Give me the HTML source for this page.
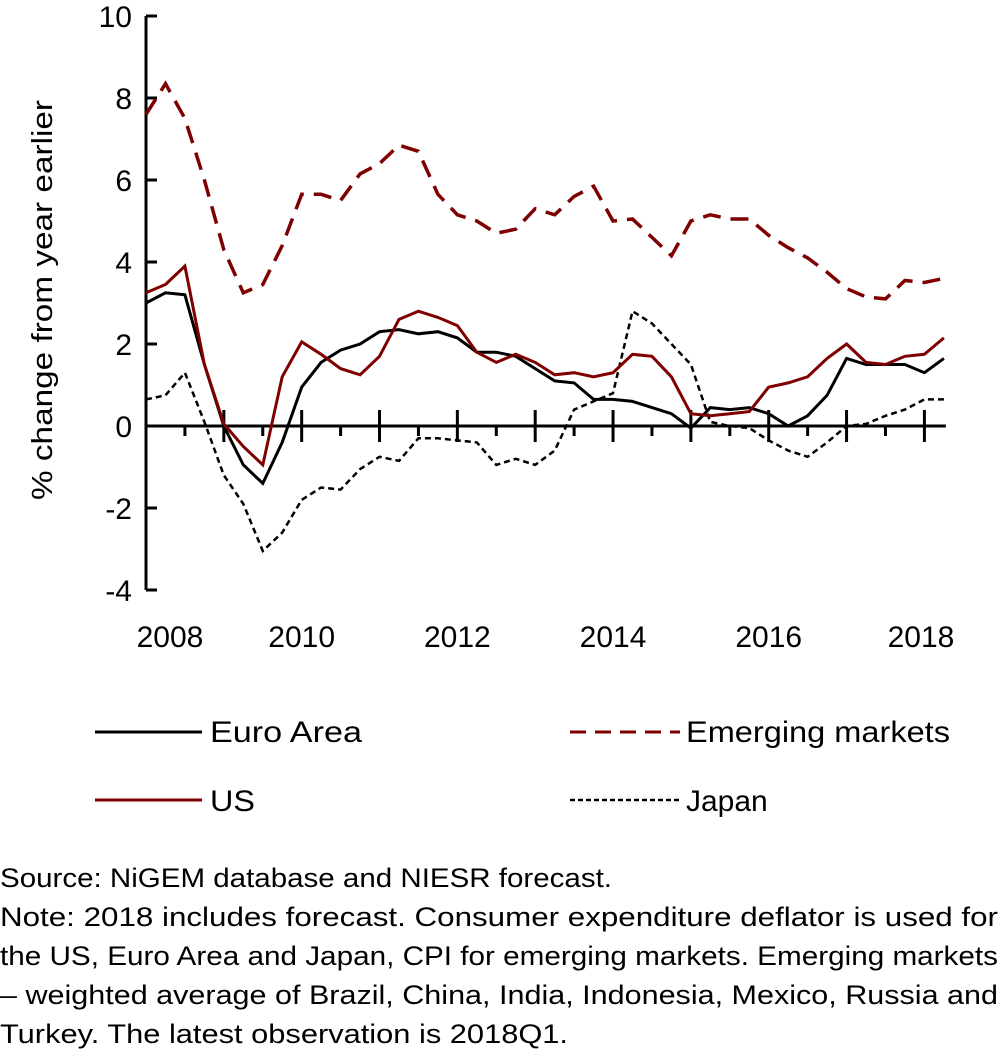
<!DOCTYPE html>
<html><head><meta charset="utf-8"><style>
html,body{margin:0;padding:0;background:#fff;}
svg{display:block;font-family:"Liberation Sans",sans-serif;}
</style></head><body>
<svg id="chart" width="1001" height="1061" viewBox="0 0 1001 1061" xmlns="http://www.w3.org/2000/svg">
<g id="plot"></g>
<text transform="translate(52,300) rotate(-90)" text-anchor="middle" font-size="29" textLength="400" lengthAdjust="spacingAndGlyphs" fill="#000">% change from year earlier</text>
<g>
  <g>
    <line x1="95" y1="732" x2="202" y2="732" stroke="#000" stroke-width="3"/>
    <text x="210" y="742" font-size="30" textLength="152" lengthAdjust="spacingAndGlyphs">Euro Area</text>
  </g>
  <g>
    <line x1="570" y1="732" x2="680" y2="732" stroke="#7f0000" stroke-width="3" stroke-dasharray="16,9"/>
    <text x="686" y="742" font-size="30" textLength="264" lengthAdjust="spacingAndGlyphs">Emerging markets</text>
  </g>
  <g>
    <line x1="95" y1="800" x2="202" y2="800" stroke="#7f0000" stroke-width="3"/>
    <text x="210" y="811" font-size="30" textLength="45" lengthAdjust="spacingAndGlyphs">US</text>
  </g>
  <g>
    <line x1="570" y1="800" x2="680" y2="800" stroke="#000" stroke-width="2.5" stroke-dasharray="5,3"/>
    <text x="686" y="811" font-size="30">Japan</text>
  </g>
</g>
<g font-size="27" fill="#000">
  <text x="0" y="887" textLength="612" lengthAdjust="spacingAndGlyphs">Source: NiGEM database and NIESR forecast.</text>
  <text x="0" y="926" textLength="998" lengthAdjust="spacingAndGlyphs">Note: 2018 includes forecast. Consumer expenditure deflator is used for</text>
  <text x="0" y="965" textLength="998" lengthAdjust="spacingAndGlyphs">the US, Euro Area and Japan, CPI for emerging markets. Emerging markets</text>
  <text x="0" y="1004" textLength="998" lengthAdjust="spacingAndGlyphs">– weighted average of Brazil, China, India, Indonesia, Mexico, Russia and</text>
  <text x="0" y="1043" textLength="568" lengthAdjust="spacingAndGlyphs">Turkey. The latest observation is 2018Q1.</text>
</g>
</svg>
<script>
const yTicks = [-4,-2,0,2,4,6,8,10];
const xLabels = ["2008","2010","2012","2014","2016","2018"];
const euroArea = [3.0,3.25,3.2,1.5,0.0,-0.95,-1.4,-0.4,0.95,1.55,1.85,2.0,2.3,2.35,2.25,2.3,2.15,1.8,1.8,1.7,1.4,1.1,1.05,0.65,0.65,0.6,0.45,0.3,-0.05,0.45,0.4,0.45,0.3,0.0,0.25,0.75,1.65,1.5,1.5,1.5,1.3,1.65];
const us = [3.25,3.45,3.9,1.5,0.05,-0.5,-0.95,1.2,2.05,1.75,1.4,1.25,1.7,2.6,2.8,2.65,2.45,1.8,1.55,1.75,1.55,1.25,1.3,1.2,1.3,1.75,1.7,1.2,0.3,0.25,0.3,0.35,0.95,1.05,1.2,1.65,2.0,1.55,1.5,1.7,1.75,2.15];
const emerging = [7.6,8.35,7.5,6.0,4.3,3.25,3.45,4.4,5.65,5.65,5.5,6.15,6.4,6.85,6.7,5.65,5.15,5.0,4.7,4.8,5.3,5.15,5.6,5.85,5.0,5.05,4.6,4.15,5.0,5.15,5.05,5.05,4.65,4.35,4.1,3.75,3.35,3.15,3.1,3.55,3.5,3.6];
const japan = [0.65,0.75,1.3,0.1,-1.2,-1.9,-3.05,-2.6,-1.8,-1.5,-1.55,-1.05,-0.75,-0.85,-0.3,-0.3,-0.35,-0.4,-0.95,-0.8,-0.95,-0.6,0.4,0.6,0.8,2.8,2.5,2.0,1.5,0.1,0.0,-0.05,-0.35,-0.6,-0.75,-0.4,0.0,0.05,0.25,0.4,0.65,0.65];

const NS='http://www.w3.org/2000/svg';
const plot=document.getElementById('plot');
const X0=146, DX=19.46, Y0=426, PU=41;
function xq(i){return X0+i*DX;}
function yv(v){return Y0-v*PU;}
function mk(tag,attrs,parent){const e=document.createElementNS(NS,tag);for(const k in attrs)e.setAttribute(k,attrs[k]);(parent||plot).appendChild(e);return e;}

let ya=mk('line',{x1:X0,y1:yv(10),x2:X0,y2:yv(-4),stroke:'#000','stroke-width':3});


yTicks.forEach(v=>{
  let t=mk('line',{x1:X0,y1:yv(v),x2:X0+11,y2:yv(v),stroke:'#000','stroke-width':3});
  
  
  let l=mk('text',{x:132,y:yv(v)+11,'text-anchor':'end','font-size':30});
  l.textContent=v;
  
  
});
let xa=mk('line',{x1:X0,y1:yv(0),x2:xq(41)+2,y2:yv(0),stroke:'#000','stroke-width':3});


for(let i=2;i<=40;i+=2){
  const tall=i%4===0;
  let t=mk('line',{x1:xq(i),y1:yv(0)-(tall?16:0),x2:xq(i),y2:yv(0)+(tall?16:10),stroke:'#000','stroke-width':3});
  
  
}
xLabels.forEach((lab,k)=>{
  let cx=k===0?170:xq(k*8);
  if(k===xLabels.length-1)cx=921;
  let l=mk('text',{x:cx,y:647,'text-anchor':'middle','font-size':30});
  l.textContent=lab;
  
  
});
function series(arr,color,w,dash,name){
  const pts=arr.map((v,i)=>xq(i).toFixed(1)+','+yv(v).toFixed(1)).join(' ');
  const attrs={points:pts,fill:'none',stroke:color,'stroke-width':w,'stroke-linejoin':'miter'};
  if(dash)attrs['stroke-dasharray']=dash;
  let p=mk('polyline',attrs);
  
  
}
series(japan,'#000',2.5,'6,4','japan-line');
series(euroArea,'#000',3,null,'euro-area-line');
series(us,'#7f0000',3,null,'us-line');
series(emerging,'#7f0000',3.5,'18,10','emerging-markets-line');
</script>
</body></html>
